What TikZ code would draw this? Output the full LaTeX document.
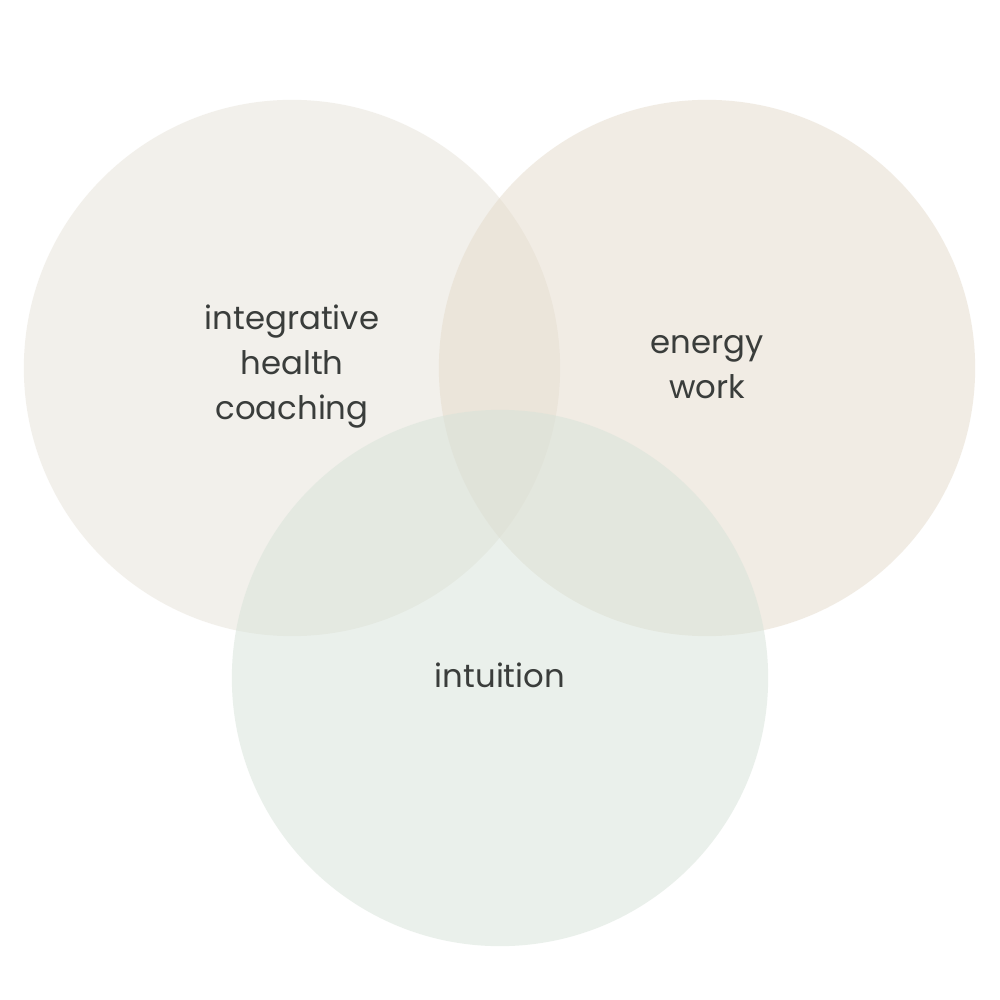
\documentclass[tikz,border=0pt]{standalone}
\usepackage{fontspec}
\setmainfont{Poppins}
\definecolor{cleft}{RGB}{231,227,217}
\definecolor{cright}{RGB}{229,219,203}
\definecolor{cbottom}{RGB}{215,227,217}
\definecolor{txt}{RGB}{58,61,59}
\begin{document}
\begin{tikzpicture}[x=0.01cm,y=-0.01cm,
  venn/.style={circle,minimum size=5.36cm,inner sep=0pt,fill opacity=0.5},
  lbl/.style={text=txt,font=\fontsize{9.2}{12.8}\selectfont,align=center,inner sep=0pt}]
\useasboundingbox[fill=white] (0,0) rectangle (1000,1000);
\node[venn,fill=cleft] (L) at (292,368) {};
\node[venn,fill=cright] (R) at (707,368) {};
\node[venn,fill=cbottom] (B) at (500,678) {};
\node[lbl] (tL) at (292,367) {integrative\\health\\coaching};
\node[lbl] (tR) at (707,367) {energy\\work};
\node[lbl] (tB) at (500,675) {intuition};
\end{tikzpicture}
\end{document}
